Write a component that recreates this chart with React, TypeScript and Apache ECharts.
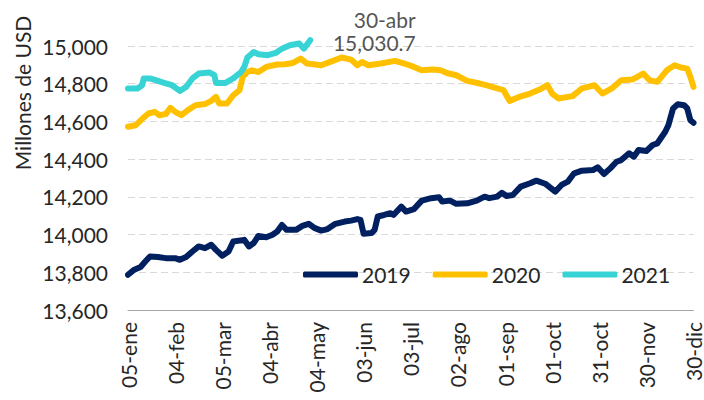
import React, { useEffect, useRef } from "react";
import * as echarts from "echarts";

// x: days since 05-ene (category step of the original date axis)
const tickLabels = ["05-ene", "04-feb", "05-mar", "04-abr", "04-may", "03-jun", "03-jul", "02-ago", "01-sep", "01-oct", "31-oct", "30-nov", "30-dic"];

const days2019 = [0, 4, 8, 11, 14, 19, 24, 30, 33, 37, 41, 45, 49, 53, 56, 60, 64, 67, 74, 77, 80, 83, 88, 92, 95, 98, 101, 107, 111, 115, 119, 123, 127, 132, 138, 142, 146, 148, 150, 155, 157, 159, 163, 167, 169, 174, 177, 182, 187, 193, 198, 200, 205, 209, 216, 222, 227, 230, 235, 238, 241, 245, 250, 256, 260, 266, 272, 276, 280, 284, 289, 296, 299, 303, 307, 311, 314, 319, 322, 325, 330, 334, 337, 342, 344, 347, 350, 354, 356, 358, 360];
const values2019 = [13787, 13814, 13828, 13857, 13884, 13881, 13875, 13875, 13866, 13881, 13910, 13937, 13928, 13946, 13919, 13888, 13910, 13963, 13972, 13937, 13955, 13993, 13986, 13999, 14016, 14051, 14025, 14025, 14046, 14057, 14034, 14021, 14029, 14057, 14069, 14074, 14082, 14078, 14004, 14008, 14025, 14096, 14104, 14113, 14104, 14148, 14122, 14135, 14180, 14193, 14198, 14175, 14180, 14163, 14166, 14180, 14201, 14193, 14201, 14222, 14205, 14210, 14254, 14272, 14286, 14268, 14228, 14263, 14281, 14325, 14339, 14342, 14357, 14321, 14351, 14386, 14395, 14431, 14413, 14448, 14443, 14475, 14484, 14545, 14580, 14669, 14691, 14686, 14669, 14607, 14593];

const days2020 = [0, 5, 10, 13, 17, 20, 24, 27, 30, 34, 39, 43, 49, 53, 56, 58, 63, 67, 71, 73, 76, 79, 83, 88, 95, 100, 105, 110, 114, 118, 123, 130, 136, 142, 146, 149, 153, 161, 170, 176, 182, 187, 194, 199, 203, 209, 216, 224, 228, 235, 239, 243, 249, 256, 262, 267, 270, 274, 283, 289, 297, 302, 308, 314, 321, 328, 332, 337, 343, 348, 352, 356, 358, 360];
const values2020 = [14572, 14580, 14621, 14642, 14651, 14633, 14639, 14672, 14651, 14633, 14665, 14686, 14692, 14709, 14730, 14695, 14695, 14739, 14766, 14836, 14862, 14871, 14862, 14889, 14902, 14903, 14910, 14933, 14907, 14903, 14898, 14920, 14939, 14928, 14898, 14915, 14898, 14907, 14921, 14907, 14889, 14871, 14875, 14871, 14857, 14845, 14815, 14801, 14792, 14775, 14766, 14709, 14730, 14748, 14769, 14792, 14748, 14722, 14734, 14775, 14792, 14748, 14775, 14818, 14822, 14854, 14818, 14810, 14871, 14898, 14886, 14880, 14836, 14783];

const days2021 = [0, 6, 9, 10, 14, 18, 23, 28, 33, 37, 41, 45, 52, 55, 56, 62, 67, 72, 74, 76, 80, 83, 89, 94, 98, 103, 109, 112, 116];
const values2021 = [14775, 14775, 14792, 14828, 14828, 14818, 14804, 14792, 14762, 14783, 14828, 14854, 14859, 14845, 14804, 14804, 14828, 14862, 14889, 14939, 14968, 14956, 14951, 14963, 14986, 15004, 15013, 14986, 15030.7];

const seriesNames = ["2019", "2020", "2021"];
const colors = ["#002060", "#FFC000", "#38D3D5"];
const lastLabelDate = "30-abr";

const FONT = "Lato";
const TEXT = "#262626";

function pairs(d: number[], v: number[]) {
  return d.map((x, i) => [x, v[i]]);
}

export default function App() {
  const ref = useRef<HTMLDivElement>(null);
  useEffect(() => {
    if (!ref.current) return;
    const chart = echarts.init(ref.current, undefined, { renderer: "svg" });
    const lastDay = days2021[days2021.length - 1];
    const lastVal = values2021[values2021.length - 1];
    const lastText = lastVal.toLocaleString("en-US", { minimumFractionDigits: 1, maximumFractionDigits: 1 });
    const lineSeries = (name: string, data: number[][], color: string) => ({
      name,
      type: "line",
      data,
      clip: false,
      showSymbol: false,
      symbol: "none",
      lineStyle: { color, width: 6, cap: "round", join: "round" },
      itemStyle: { color },
    });
    chart.setOption({
      animation: false,
      textStyle: { fontFamily: FONT },
      grid: { left: 128, right: 5, top: 46, bottom: 90, containLabel: false },
      xAxis: {
        type: "value",
        min: 0,
        max: 360,
        interval: 30,
        axisLine: { show: true, lineStyle: { color: "#A6A6A6", width: 1 } },
        axisTick: { show: false },
        splitLine: { show: false },
        axisLabel: {
          rotate: 90,
          margin: 12,
          fontSize: 21,
          color: TEXT,
          fontFamily: FONT,
          formatter: (v: number) => tickLabels[Math.round(v / 30)] ?? "",
        },
      },
      yAxis: {
        type: "value",
        min: 13600,
        max: 15000,
        interval: 200,
        axisLine: { show: false },
        axisTick: { show: false },
        splitLine: { show: true, lineStyle: { color: "#D9D9D9", width: 1, type: [7, 4] } },
        axisLabel: {
          margin: 20,
          fontSize: 21,
          color: TEXT,
          fontFamily: FONT,
          formatter: (v: number) => v.toLocaleString("en-US"),
        },
      },
      legend: {
        left: 298,
        top: 259,
        icon: "roundRect",
        itemWidth: 55,
        itemHeight: 6,
        itemGap: 22,
        textStyle: { fontSize: 21, color: TEXT, fontFamily: FONT, padding: [0, 0, 0, -1] },
        data: seriesNames,
      },
      graphic: [
        {
          type: "text",
          x: 22,
          y: 93,
          rotation: Math.PI / 2,
          style: {
            text: "Millones de USD",
            fontSize: 21,
            fontFamily: FONT,
            fill: TEXT,
            align: "center",
            verticalAlign: "middle",
          },
        },
      ],
      series: [
        lineSeries(seriesNames[0], pairs(days2019, values2019), colors[0]),
        lineSeries(seriesNames[1], pairs(days2020, values2020), colors[1]),
        lineSeries(seriesNames[2], pairs(days2021, values2021), colors[2]),
        {
          name: "ultimo",
          type: "scatter",
          silent: true,
          clip: false,
          symbol: "circle",
          symbolSize: 1,
          itemStyle: { color: "transparent" },
          data: [[lastDay, lastVal]],
          z: 10,
          label: {
            show: true,
            formatter: `${lastLabelDate}\n${lastText}`,
            position: [106, -32],
            align: "right",
            verticalAlign: "top",
            fontSize: 21,
            lineHeight: 23,
            color: TEXT,
            fontFamily: FONT,
          },
        },
      ],
    });
    return () => chart.dispose();
  }, []);
  return <div ref={ref} style={{ width: 704, height: 400, position: "absolute", left: 0, top: 0 }} />;
}
